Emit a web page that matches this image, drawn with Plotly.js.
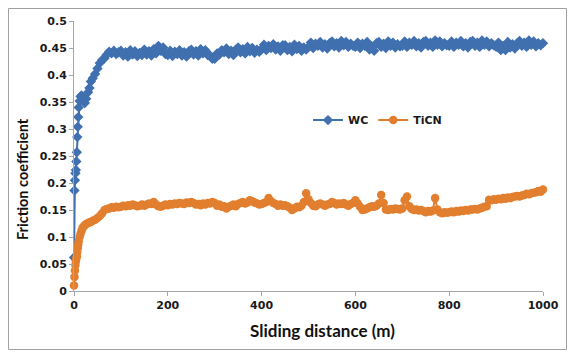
<!DOCTYPE html>
<html>
<head>
<meta charset="utf-8">
<script src="https://cdn.plot.ly/plotly-3.0.1.min.js"></script>
<style>html,body{margin:0;padding:0;background:#fff;}#chart{width:577px;height:360px;}</style>
</head>
<body>
<div id="chart"></div>
<script>
// Sliding distance (m)
var distance = [0,1,2,3,4,5,6,7,8,9,10,12,14,16,18,20,23,26,30,33,36,40,45,50,55,60,65,70,75,80,85,90,95,
100,105,110,115,120,125,130,135,140,145,150,155,160,165,170,175,180,185,190,195,
200,205,210,215,220,225,230,235,240,245,250,255,260,265,270,275,280,285,290,295,
300,305,310,315,320,325,330,335,340,345,350,355,360,365,370,375,380,385,390,395,
400,405,410,415,420,425,430,435,440,445,450,455,460,465,470,475,480,485,490,495,
500,505,510,515,520,525,530,535,540,545,550,555,560,565,570,575,580,585,590,595,
600,605,610,615,620,625,630,635,640,645,650,655,660,665,670,675,680,685,690,695,
700,705,710,715,720,725,730,735,740,745,750,755,760,765,770,775,780,785,790,795,
800,805,810,815,820,825,830,835,840,845,850,855,860,865,870,875,880,885,890,895,
900,905,910,915,920,925,930,935,940,945,950,955,960,965,970,975,980,985,990,995,1000];

var wcFriction = [0.062,0.186,0.205,0.218,0.224,0.240,0.257,0.285,0.304,0.322,0.340,0.352,0.360,0.362,0.357,0.352,0.348,0.356,0.368,0.376,0.388,0.394,0.402,0.412,0.422,0.428,0.431,0.438,0.443,0.440,0.445,0.439,0.442,
0.445,0.436,0.442,0.434,0.446,0.438,0.444,0.435,0.441,0.437,
0.447,0.438,0.444,0.436,0.448,0.440,0.454,0.445,0.451,0.439,
0.437,0.445,0.435,0.443,0.439,0.446,0.436,0.442,0.434,0.444,
0.447,0.438,0.444,0.436,0.448,0.440,0.446,0.437,0.436,0.430,
0.430,0.440,0.438,0.446,0.442,0.449,0.439,0.445,0.437,0.447,
0.451,0.442,0.448,0.440,0.452,0.444,0.450,0.441,0.447,0.443,
0.448,0.456,0.446,0.454,0.450,0.457,0.447,0.453,0.445,0.455,
0.455,0.446,0.452,0.444,0.456,0.448,0.454,0.445,0.451,0.447,
0.452,0.460,0.450,0.458,0.454,0.461,0.451,0.457,0.449,0.459,
0.462,0.453,0.459,0.451,0.463,0.455,0.461,0.452,0.458,0.454,
0.452,0.460,0.450,0.458,0.454,0.461,0.447,0.453,0.445,0.459,
0.461,0.452,0.458,0.450,0.462,0.454,0.460,0.451,0.457,0.453,
0.454,0.462,0.452,0.460,0.456,0.463,0.453,0.459,0.451,0.461,
0.463,0.454,0.460,0.452,0.464,0.456,0.462,0.453,0.459,0.455,
0.454,0.462,0.452,0.460,0.456,0.463,0.453,0.459,0.451,0.461,
0.463,0.454,0.460,0.452,0.464,0.456,0.462,0.453,0.459,0.455,
0.452,0.460,0.446,0.454,0.446,0.461,0.451,0.457,0.449,0.459,
0.463,0.454,0.460,0.452,0.464,0.456,0.462,0.453,0.459,0.455,0.459];

var ticnFriction = [0.010,0.026,0.038,0.048,0.055,0.060,0.064,0.072,0.079,0.086,0.092,0.100,0.106,0.111,0.116,0.119,0.122,0.124,0.126,0.127,0.128,0.130,0.132,0.135,0.139,0.144,0.150,0.152,0.153,0.155,0.154,0.156,0.155,
0.156,0.158,0.157,0.159,0.158,0.160,0.159,0.157,0.158,0.160,0.158,0.160,0.162,0.161,0.165,0.160,0.157,0.156,0.158,0.160,
0.159,0.161,0.160,0.162,0.161,0.163,0.162,0.161,0.164,0.163,0.165,0.163,0.160,0.161,0.159,0.162,0.160,0.163,0.162,0.165,
0.163,0.158,0.160,0.156,0.157,0.153,0.156,0.158,0.160,0.157,0.161,0.163,0.165,0.162,0.164,0.168,0.166,0.164,0.162,0.160,
0.161,0.163,0.165,0.172,0.166,0.163,0.161,0.158,0.160,0.158,0.159,0.157,0.154,0.150,0.153,0.156,0.155,0.158,0.165,0.181,
0.170,0.163,0.158,0.157,0.160,0.162,0.160,0.158,0.160,0.161,0.165,0.163,0.160,0.162,0.161,0.163,0.160,0.158,0.161,0.163,
0.168,0.162,0.156,0.150,0.151,0.153,0.155,0.157,0.156,0.158,0.162,0.178,0.163,0.151,0.150,0.152,0.151,0.153,0.152,0.151,
0.153,0.168,0.175,0.157,0.152,0.150,0.151,0.149,0.150,0.148,0.146,0.148,0.147,0.149,0.172,0.151,0.146,0.144,0.146,0.145,
0.146,0.147,0.146,0.148,0.147,0.149,0.148,0.150,0.149,0.151,0.151,0.152,0.151,0.153,0.154,0.156,0.157,0.169,0.168,0.170,
0.169,0.171,0.170,0.172,0.171,0.173,0.172,0.174,0.175,0.176,0.175,0.177,0.178,0.180,0.179,0.181,0.182,0.183,0.185,0.184,0.188];

var seriesNames = ['WC', 'TiCN'];
var xTickValues = [0, 200, 400, 600, 800, 1000];
var yTickValues = [0, 0.05, 0.1, 0.15, 0.2, 0.25, 0.3, 0.35, 0.4, 0.45, 0.5];

var blue = '#4170b0', orange = '#e27f2f';
var tickFont = {family: 'DejaVu Sans', size: 11, color: '#1a1a1a', weight: 'bold'};

var traces = [
  {x: distance, y: wcFriction, name: seriesNames[0], type: 'scatter', mode: 'lines+markers',
   line: {color: blue, width: 2}, marker: {symbol: 'diamond', size: 8, color: blue, line: {width: 0}},
   cliponaxis: false},
  {x: distance, y: ticnFriction, name: seriesNames[1], type: 'scatter', mode: 'lines+markers',
   line: {color: orange, width: 2}, marker: {symbol: 'circle', size: 8.5, color: orange, line: {width: 0}},
   cliponaxis: false}
];

var layout = {
  width: 577, height: 360,
  margin: {l: 74, r: 34, t: 21, b: 69, pad: 0},
  paper_bgcolor: '#ffffff', plot_bgcolor: 'rgba(0,0,0,0)',
  showlegend: true,
  legend: {orientation: 'h', x: (308 - 74) / 469, xanchor: 'left', y: 0.633, yanchor: 'middle',
    font: {family: 'DejaVu Sans', size: 11, color: '#1a1a1a', weight: 'bold'},
    bgcolor: 'rgba(0,0,0,0)', itemwidth: 30, tracegroupgap: 0},
  xaxis: {range: [0, 1000], tickvals: xTickValues, ticktext: xTickValues.map(String),
    showgrid: false, zeroline: false, showline: true, linecolor: '#a6a6a6', linewidth: 1,
    ticks: 'outside', ticklen: 4, tickcolor: '#a6a6a6', tickfont: tickFont, automargin: false},
  yaxis: {range: [0, 0.5], tickvals: yTickValues, ticktext: yTickValues.map(String),
    showgrid: false, zeroline: false, showline: true, linecolor: '#a6a6a6', linewidth: 1,
    ticks: 'outside', ticklen: 4, tickcolor: '#a6a6a6', tickfont: tickFont, automargin: false},
  annotations: [
    {text: 'Sliding distance (m)', xref: 'paper', yref: 'paper', x: (322 - 74) / 469, y: (291 - 330) / 270,
     xanchor: 'center', yanchor: 'middle', showarrow: false,
     font: {family: 'Lato', size: 17, color: '#111', weight: 'bold'}},
    {text: 'Friction coefficient', xref: 'paper', yref: 'paper', x: (22 - 74) / 469, y: (291 - 179) / 270,
     xanchor: 'center', yanchor: 'middle', showarrow: false, textangle: -90,
     font: {family: 'Lato', size: 14.5, color: '#111', weight: 'bold'}}
  ],
  shapes: [
    {type: 'rect', xref: 'paper', yref: 'paper', x0: (8.5 - 74) / 469, x1: (566.5 - 74) / 469,
     y0: (291 - 349.5) / 270, y1: (291 - 8.5) / 270, line: {color: '#a0a0a0', width: 1}, layer: 'below'}
  ]
};

Plotly.newPlot('chart', traces, layout, {displayModeBar: false, staticPlot: true});
</script>
</body>
</html>
